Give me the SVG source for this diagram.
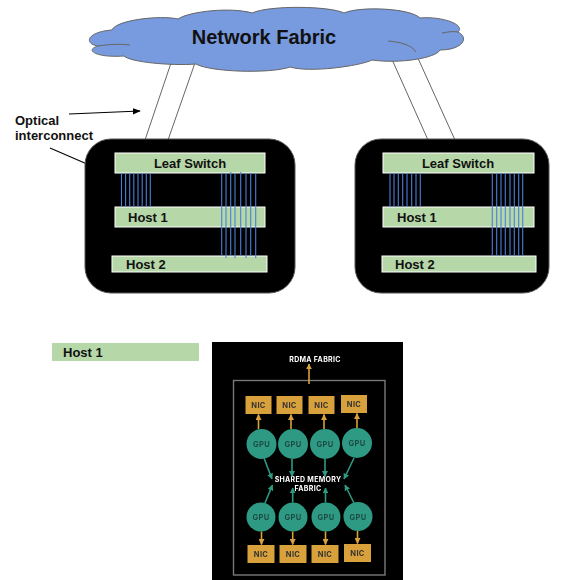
<svg xmlns="http://www.w3.org/2000/svg" width="565" height="580" viewBox="0 0 565 580">
  <defs>
    <style>
      .lbl { font-family: "Liberation Sans", Arial, sans-serif; font-weight: bold; fill: #111; }
      .box { fill: #000; stroke: #555; stroke-width: 1; }
      .bar { fill: #b6d7a8; stroke: #ffffff; stroke-width: 1; }
      .fiber { stroke: #4a80d8; stroke-width: 1.1; fill: none; }
      .uplink { stroke: #666; stroke-width: 1; fill: none; }
      .pt { font-family: Inter, "Noto Sans", sans-serif; font-weight: bold; text-anchor: middle; letter-spacing: 0.3px; }
      .nic { fill: #d9a13b; }
      .gpu { fill: #2e9a84; }
      .ora { stroke: #d9a13b; stroke-width: 1.6; fill: none; }
      .teal { stroke: #2e9a84; stroke-width: 1.6; fill: none; }
    </style>
    <marker id="blackHead" viewBox="0 0 10 10" refX="9" refY="5" markerWidth="8" markerHeight="8" orient="auto" markerUnits="userSpaceOnUse">
      <path d="M0,1 L10,5 L0,9 Z" fill="#000"/>
    </marker>
    <marker id="oraHead" viewBox="0 0 10 10" refX="9" refY="5" markerWidth="6" markerHeight="6" orient="auto" markerUnits="userSpaceOnUse">
      <path d="M0,0 L10,5 L0,10 Z" fill="#d9a13b"/>
    </marker>
    <marker id="tealHead" viewBox="0 0 10 10" refX="9" refY="5" markerWidth="6" markerHeight="6" orient="auto" markerUnits="userSpaceOnUse">
      <path d="M0,0 L10,5 L0,10 Z" fill="#2e9a84"/>
    </marker>
    <filter id="soft" x="-5%" y="-5%" width="110%" height="110%">
      <feGaussianBlur stdDeviation="0.45"/>
    </filter>
  </defs>

  <rect width="565" height="580" fill="#ffffff"/>

  <!-- optical uplinks from the leaf switches into the fabric -->
  <g id="connectors">
    <line class="uplink" x1="172" y1="60" x2="145" y2="140"/>
    <line class="uplink" x1="196" y1="60" x2="168" y2="140"/>
    <line class="uplink" x1="390" y1="55" x2="428" y2="140"/>
    <line class="uplink" x1="412" y1="45" x2="455" y2="140"/>
    <line x1="69" y1="114" x2="140" y2="111" stroke="#000" stroke-width="1.2" marker-end="url(#blackHead)"/>
    <line x1="50" y1="148" x2="87" y2="164" stroke="#000" stroke-width="1.1"/>
  </g>

  <!-- network fabric cloud -->
  <g id="network-fabric">
    <path d="M98,46 C84,44 86,32 112,30 C116,20 160,15 178,19 C190,11 232,7 252,13 C270,5 330,6 344,13 C360,6 410,8 420,18 C440,16 466,24 458,32 C470,38 462,50 440,50 C436,58 400,64 372,60 C360,66 310,73 290,67 C270,74 210,72 196,64 C170,66 130,62 124,56 C96,58 84,50 98,46 Z" fill="#789ade" stroke="#666" stroke-width="1"/>
    <path d="M98,46 C110,44 124,44 130,45" fill="none" stroke="#666" stroke-width="1"/>
    <path d="M388,41 C400,42 412,45 416,52" fill="none" stroke="#666" stroke-width="1"/>
    <path d="M442,33 C448,32 452,31 458,32" fill="none" stroke="#666" stroke-width="1"/>
    <text class="lbl" x="264" y="44" font-size="20" text-anchor="middle">Network Fabric</text>
  </g>

  <g id="optical-label">
    <text class="lbl" x="15" y="125" font-size="13">Optical</text>
    <text class="lbl" x="15" y="140" font-size="13">interconnect</text>
  </g>

  <!-- left rack -->
  <g id="rack-left">
    <rect class="box" x="85" y="139" width="210" height="154" rx="26"/>
    <rect class="bar" x="115" y="153" width="150" height="20"/>
    <text class="lbl" x="190" y="168" font-size="13" text-anchor="middle">Leaf Switch</text>
    <rect class="bar" x="115" y="207" width="150" height="20"/>
    <text class="lbl" x="128" y="222" font-size="13">Host 1</text>
    <rect class="bar" x="112" y="256" width="155" height="16"/>
    <text class="lbl" x="126" y="269" font-size="13">Host 2</text>
    <g class="fiber">
      <line x1="121.5" y1="173" x2="121.5" y2="207"/>
      <line x1="125.6" y1="173" x2="125.6" y2="207"/>
      <line x1="129.7" y1="173" x2="129.7" y2="207"/>
      <line x1="133.8" y1="173" x2="133.8" y2="207"/>
      <line x1="138" y1="173" x2="138" y2="207"/>
      <line x1="142.2" y1="173" x2="142.2" y2="207"/>
      <line x1="146.3" y1="173" x2="146.3" y2="207"/>
      <line x1="150.3" y1="173" x2="150.3" y2="207"/>
      <line x1="221.7" y1="173" x2="221.7" y2="256"/>
      <line x1="226" y1="173" x2="226" y2="258"/>
      <line x1="230.7" y1="172" x2="230.7" y2="256"/>
      <line x1="235" y1="173" x2="235" y2="258"/>
      <line x1="240.7" y1="172" x2="240.7" y2="256"/>
      <line x1="246" y1="173" x2="246" y2="258"/>
      <line x1="250.7" y1="173" x2="250.7" y2="256"/>
      <line x1="255.7" y1="173" x2="255.7" y2="258"/>
    </g>
  </g>

  <!-- right rack -->
  <g id="rack-right">
    <rect class="box" x="355" y="139" width="194" height="154" rx="26"/>
    <rect class="bar" x="383" y="153" width="151" height="20"/>
    <text class="lbl" x="458" y="168" font-size="13" text-anchor="middle">Leaf Switch</text>
    <rect class="bar" x="383" y="207" width="151" height="20"/>
    <text class="lbl" x="397" y="222" font-size="13">Host 1</text>
    <rect class="bar" x="382" y="256" width="154" height="16"/>
    <text class="lbl" x="395" y="269" font-size="13">Host 2</text>
    <g class="fiber">
      <line x1="390" y1="173" x2="390" y2="207"/>
      <line x1="394" y1="173" x2="394" y2="207"/>
      <line x1="398.3" y1="173" x2="398.3" y2="207"/>
      <line x1="402.7" y1="173" x2="402.7" y2="207"/>
      <line x1="407" y1="173" x2="407" y2="207"/>
      <line x1="411.7" y1="173" x2="411.7" y2="207"/>
      <line x1="416" y1="173" x2="416" y2="207"/>
      <line x1="420.3" y1="173" x2="420.3" y2="207"/>
      <line x1="492.3" y1="173" x2="492.3" y2="256"/>
      <line x1="496.7" y1="173" x2="496.7" y2="256"/>
      <line x1="501" y1="173" x2="501" y2="256"/>
      <line x1="505.3" y1="173" x2="505.3" y2="256"/>
      <line x1="510" y1="173" x2="510" y2="256"/>
      <line x1="514.3" y1="173" x2="514.3" y2="256"/>
      <line x1="518.7" y1="173" x2="518.7" y2="256"/>
      <line x1="522.7" y1="173" x2="522.7" y2="256"/>
    </g>
  </g>

  <!-- host 1 legend bar -->
  <g id="host1-legend">
    <rect x="52" y="343" width="147" height="18" fill="#b6d7a8"/>
    <text class="lbl" x="63" y="357" font-size="13">Host 1</text>
  </g>

  <!-- host internals: GPUs, NICs and shared memory fabric -->
  <g id="host-internals" filter="url(#soft)">
    <rect x="212" y="342" width="191" height="238" fill="#000"/>
    <rect x="233.5" y="380.5" width="151.5" height="194.5" fill="none" stroke="#7a7a7a" stroke-width="1.4"/>
    <text class="pt" x="315" y="362" font-size="7" fill="#ffffff">RDMA FABRIC</text>
    <line class="ora" x1="309" y1="384" x2="309" y2="364" marker-end="url(#oraHead)"/>

    <g id="nic-top">
      <rect class="nic" x="245.5" y="396" width="26" height="18"/>
      <rect class="nic" x="276.5" y="396" width="26" height="18"/>
      <rect class="nic" x="308.5" y="396" width="26" height="18"/>
      <rect class="nic" x="341" y="395" width="26" height="18"/>
      <g font-size="7.5" fill="#333">
        <text class="pt" x="258.5" y="408">NIC</text>
        <text class="pt" x="289.5" y="408">NIC</text>
        <text class="pt" x="321.5" y="408">NIC</text>
        <text class="pt" x="354" y="407">NIC</text>
      </g>
    </g>

    <g id="gpu-top">
      <circle class="gpu" cx="261.5" cy="444" r="15"/>
      <circle class="gpu" cx="293" cy="444" r="15"/>
      <circle class="gpu" cx="325" cy="444" r="15"/>
      <circle class="gpu" cx="357" cy="443" r="15"/>
      <g font-size="7.5" fill="#1d4a43">
        <text class="pt" x="261.5" y="447">GPU</text>
        <text class="pt" x="293" y="447">GPU</text>
        <text class="pt" x="325" y="447">GPU</text>
        <text class="pt" x="357" y="446">GPU</text>
      </g>
    </g>

    <text class="pt" x="308" y="482" font-size="7" fill="#ffffff">SHARED MEMORY</text>
    <text class="pt" x="308" y="490.5" font-size="7" fill="#ffffff">FABRIC</text>

    <g id="gpu-bottom">
      <circle class="gpu" cx="261" cy="517" r="14.5"/>
      <circle class="gpu" cx="293" cy="517" r="14.5"/>
      <circle class="gpu" cx="326" cy="517" r="14.5"/>
      <circle class="gpu" cx="358" cy="516.5" r="14.5"/>
      <g font-size="7.5" fill="#1d4a43">
        <text class="pt" x="261" y="520">GPU</text>
        <text class="pt" x="293" y="520">GPU</text>
        <text class="pt" x="326" y="520">GPU</text>
        <text class="pt" x="358" y="519.5">GPU</text>
      </g>
    </g>

    <g id="nic-bottom">
      <rect class="nic" x="247.5" y="545" width="27" height="18"/>
      <rect class="nic" x="279.5" y="545" width="27" height="18"/>
      <rect class="nic" x="311.5" y="545" width="27" height="18"/>
      <rect class="nic" x="344" y="544" width="27" height="18"/>
      <g font-size="7.5" fill="#333">
        <text class="pt" x="261" y="557">NIC</text>
        <text class="pt" x="293" y="557">NIC</text>
        <text class="pt" x="325" y="557">NIC</text>
        <text class="pt" x="357.5" y="556">NIC</text>
      </g>
    </g>

    <!-- GPU to NIC links -->
    <g id="gpu-nic-links">
      <line class="ora" x1="258.5" y1="429" x2="258.5" y2="414.5" marker-end="url(#oraHead)"/>
      <line class="ora" x1="291" y1="429" x2="291" y2="414.5" marker-end="url(#oraHead)"/>
      <line class="ora" x1="324" y1="429" x2="324" y2="414.5" marker-end="url(#oraHead)"/>
      <line class="ora" x1="357" y1="428" x2="357" y2="413.5" marker-end="url(#oraHead)"/>
      <line class="ora" x1="261.5" y1="531.5" x2="261.5" y2="544.5" marker-end="url(#oraHead)"/>
      <line class="ora" x1="292.7" y1="531.5" x2="292.7" y2="544.5" marker-end="url(#oraHead)"/>
      <line class="ora" x1="325.5" y1="531.5" x2="325.5" y2="544.5" marker-end="url(#oraHead)"/>
      <line class="ora" x1="357.5" y1="531" x2="357.5" y2="543.5" marker-end="url(#oraHead)"/>
    </g>

    <!-- GPU to shared memory fabric links -->
    <g id="gpu-fabric-links">
      <line class="teal" x1="264" y1="458" x2="272" y2="479" marker-end="url(#tealHead)"/>
      <line class="teal" x1="292" y1="459" x2="292" y2="476.5" marker-end="url(#tealHead)"/>
      <line class="teal" x1="325" y1="459" x2="325" y2="476.5" marker-end="url(#tealHead)"/>
      <line class="teal" x1="354" y1="458" x2="344" y2="479" marker-end="url(#tealHead)"/>
      <line class="teal" x1="265" y1="503" x2="272.5" y2="485" marker-end="url(#tealHead)"/>
      <line class="teal" x1="292.7" y1="502.5" x2="292.7" y2="488" marker-end="url(#tealHead)"/>
      <line class="teal" x1="325.5" y1="502.5" x2="325.5" y2="488" marker-end="url(#tealHead)"/>
      <line class="teal" x1="354" y1="503" x2="345" y2="485" marker-end="url(#tealHead)"/>
    </g>
  </g>
</svg>
